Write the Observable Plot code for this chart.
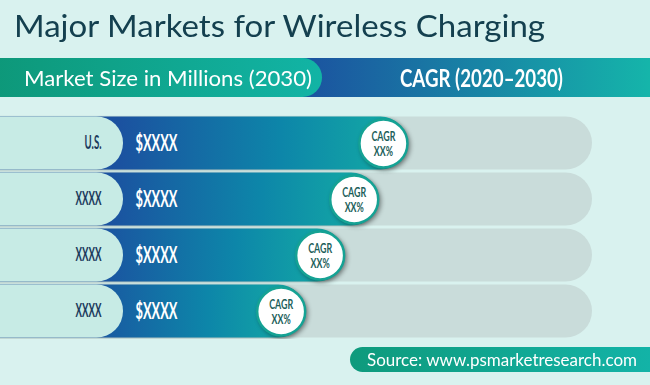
<!DOCTYPE html>
<html>
<head>
<meta charset="utf-8">
<script src="https://cdn.jsdelivr.net/npm/d3@7"></script>
<script src="https://cdn.jsdelivr.net/npm/@observablehq/plot@0.6"></script>
<style>
  html, body { margin: 0; padding: 0; width: 650px; height: 385px; overflow: hidden; background: #d9f2ef; }
  #wrap { position: relative; width: 650px; height: 385px; overflow: hidden; }
  .fit { display: inline-block; transform-origin: 0 50%; white-space: nowrap; }
  #title { position: absolute; left: 14px; top: 7px; line-height: 36px; font-family: Lato, "Noto Sans", sans-serif; font-size: 31px; color: #14404f; }
  #header { position: absolute; left: 0; top: 58px; width: 650px; height: 39px; background: linear-gradient(90deg, #1b55a0 48%, #15b5aa 100%); }
  #hpill { position: absolute; left: -30px; top: 0; width: 352px; height: 39px; border-radius: 0 19.5px 19.5px 0; background: linear-gradient(90deg, #0d9676, #12b4a5); }
  #hleft { position: absolute; left: 24px; top: 0; line-height: 39px; font-family: Lato, "Noto Sans", sans-serif; font-size: 21px; color: #fff; }
  #hright { position: absolute; left: 400px; top: 0; line-height: 39px; font-family: Lato, "Noto Sans", sans-serif; font-weight: 700; font-size: 25px; color: #fff; }
  #chart { position: absolute; left: 0; top: 115px; }
  #chart svg { overflow: hidden; }
  #source { position: absolute; left: 350px; top: 347px; width: 300px; height: 25px; border-radius: 12.5px 0 0 12.5px; background: linear-gradient(90deg, #0e9a7c, #13b3a7); }
  #srctext { position: absolute; left: 367px; top: 347px; line-height: 25px; font-family: Lato, "Noto Sans", sans-serif; font-size: 17px; color: #fff; }
</style>
</head>
<body>
<div id="wrap">
  <div id="title" class="fit">Major Markets for Wireless Charging</div>
  <div id="header">
    <div id="hpill"></div>
    <div id="hleft" class="fit">Market Size in Millions (2030)</div>
    <div id="hright" class="fit">CAGR (2020–2030)</div>
  </div>
  <div id="chart"></div>
  <div id="source"></div>
  <div id="srctext" class="fit">Source: www.psmarketresearch.com</div>
</div>
<script>
// Data (placeholder values as shown in the reference)
const markets = ["U.S.", "XXXX", "XXXX", "XXXX"];
const sizeLabels = ["$XXXX", "$XXXX", "$XXXX", "$XXXX"];
const marketSize = [62, 56, 49, 41];          // relative bar length (track = 100)
const cagrLabels = ["CAGR\nXX%", "CAGR\nXX%", "CAGR\nXX%", "CAGR\nXX%"];
const trackMax = 100;
const labelPillEnd = 3.7;

const rows = markets.map((m, i) => ({
  i, market: m, sizeLabel: sizeLabels[i], size: marketSize[i], cagr: cagrLabels[i],
  start: -30, track: trackMax, pill: labelPillEnd
}));

const font = "Lato, 'Noto Sans', sans-serif";

const chart = Plot.plot({
  width: 650,
  height: 224,
  margin: 0,
  style: { background: "transparent", overflow: "hidden" },
  x: { domain: [0, 100], range: [105, 592], axis: null },
  y: { type: "band", domain: [0, 1, 2, 3], range: [0, 224], padding: 0, axis: null },
  marks: [
    Plot.barX(rows, { y: "i", x1: "start", x2: "track", fill: "#c9dcda", rx: 26.5, insetTop: 1.5, insetBottom: 1.5 }),
    Plot.barX(rows, { y: "i", x1: "start", x2: "size", fill: "url(#barGrad)", rx: 26.5, insetTop: 1.5, insetBottom: 1.5 }),
    Plot.barX(rows, { y: "i", x1: "start", x2: "pill", fill: "#c7ebe5", rx: 26.5, insetTop: 1.5, insetBottom: 1.5 }),
    Plot.text(rows, { y: "i", x: () => 0, text: "market", dx: -4, textAnchor: "end", fill: "#1b3a5c", fontSize: 18, fontWeight: 700, fontFamily: font }),
    Plot.text(rows, { y: "i", x: () => 0, text: "sizeLabel", dx: 30, textAnchor: "start", fill: "#ffffff", fontSize: 22, fontWeight: 700, fontFamily: font }),
    Plot.dot(rows, { y: "i", x: "size", dx: -24, r: 24, fill: "#ffffff", stroke: "#15a294", strokeWidth: 2.5 }),
    Plot.text(rows, { y: "i", x: "size", dx: -24, text: "cagr", fill: "#1c5e5a", fontSize: 13.5, fontWeight: 700, lineHeight: 1.15, fontFamily: font })
  ]
});

const svg = d3.select(chart);
const defs = svg.insert("defs", ":first-child");
const g = defs.append("linearGradient").attr("id", "barGrad").attr("x1", 0).attr("x2", 1).attr("y1", 0).attr("y2", 0);
g.append("stop").attr("offset", "0").attr("stop-color", "#1b4f9f");
g.append("stop").attr("offset", "0.36").attr("stop-color", "#1b52a0");
g.append("stop").attr("offset", "0.72").attr("stop-color", "#0d86a9");
g.append("stop").attr("offset", "1").attr("stop-color", "#14aea4");
svg.selectAll("g[aria-label='dot'] circle").style("filter", "drop-shadow(2px 2px 2px rgba(0,0,0,0.35))");
const barGroups = svg.selectAll("g[aria-label='bar']").nodes();
if (barGroups[1]) d3.select(barGroups[1]).selectAll("rect").style("filter", "drop-shadow(1px 1.5px 1.5px rgba(0,0,0,0.22))");

document.getElementById("chart").appendChild(chart);

// Condense SVG labels horizontally (reference uses a condensed typeface)
function squeeze(textEl, s) {
  const t = textEl.getAttribute("transform");
  if (t) {
    textEl.setAttribute("transform", `${t} scale(${s},1)`);
  } else {
    const x = parseFloat(textEl.getAttribute("x")) || 0;
    textEl.setAttribute("x", x / s);
    textEl.setAttribute("transform", `scale(${s},1)`);
  }
}
const textGroups = svg.selectAll("g[aria-label='text']").nodes();
const targets = [26, 42, 24]; // reference widths: "XXXX", "$XXXX", "CAGR"
textGroups.forEach((grp, k) => {
  const texts = Array.from(grp.querySelectorAll("text"));
  const ref = k === 0 ? texts[1] : texts[0];
  const measureEl = ref.querySelector("tspan") || ref;
  const w = measureEl.getComputedTextLength();
  const s = targets[k] / w;
  texts.forEach(t => squeeze(t, s));
});

// Fit HTML texts to the reference widths
function fitWidth(id, target) {
  const el = document.getElementById(id);
  const w = el.getBoundingClientRect().width;
  el.style.transform = `scaleX(${target / w})`;
}
fitWidth("title", 531);
fitWidth("hleft", 288);
fitWidth("hright", 163);
fitWidth("srctext", 270);
</script>
</body>
</html>
